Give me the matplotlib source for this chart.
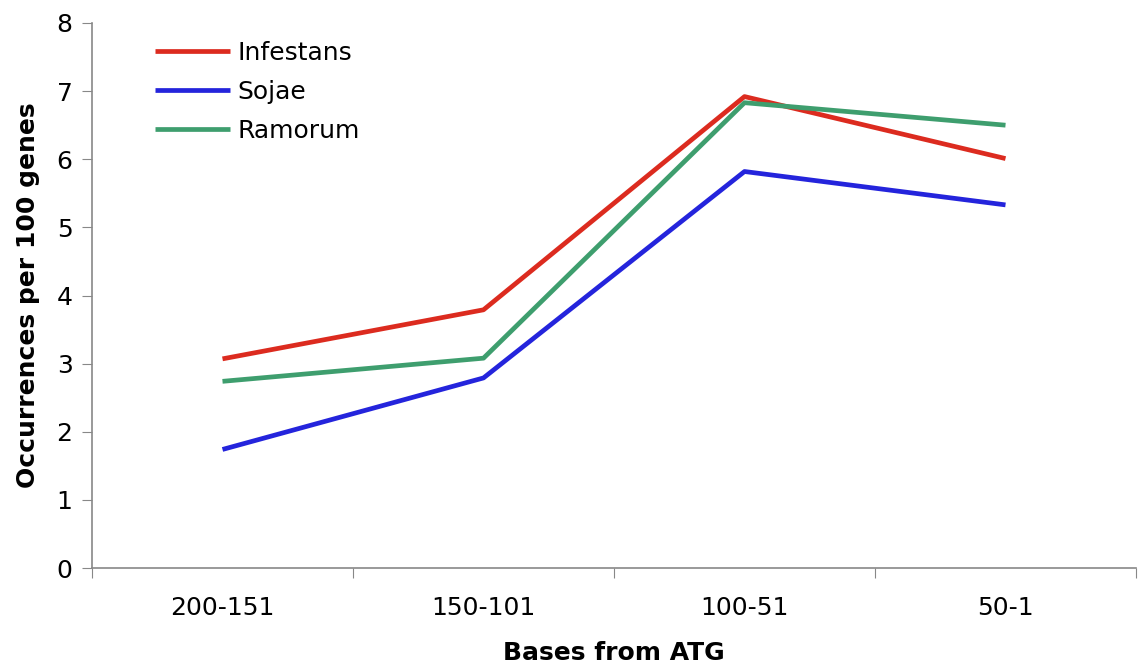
import matplotlib
matplotlib.use("Agg")
import matplotlib.pyplot as plt

# Chart data
categories = ["200-151", "150-101", "100-51", "50-1"]
infestans = [3.07, 3.79, 6.92, 6.01]
sojae = [1.74, 2.79, 5.82, 5.33]
ramorum = [2.74, 3.08, 6.83, 6.50]

series_names = ["Infestans", "Sojae", "Ramorum"]
series_colors = ["#dc2b1f", "#2424dc", "#3e9e6e"]

plt.rcParams["font.family"] = ["DejaVu Sans"]

fig = plt.figure(figsize=(11.38, 6.67), dpi=100)
ax = fig.add_axes([92 / 1138, 99 / 667, 1044 / 1138, 545 / 667])

# Category centres sit between the boundary ticks
xs = [i + 0.5 for i in range(len(categories))]
for name, vals, col in zip(series_names, [infestans, sojae, ramorum], series_colors):
    ax.plot(xs, vals, color=col, lw=3.4, label=name, solid_capstyle="butt")

ax.set_xlim(0, len(categories))
ax.set_ylim(0, 8)
ax.set_yticks(range(0, 9))

# Boundary ticks without labels, labels on minor ticks at the centres
ax.set_xticks(range(0, len(categories) + 1))
ax.set_xticklabels([])
ax.set_xticks(xs, minor=True)
ax.set_xticklabels(categories, minor=True)
ax.tick_params(axis="x", which="minor", length=0, pad=20, labelsize=18)
ax.tick_params(axis="x", which="major", length=7, color="#888888", direction="out")
ax.tick_params(axis="y", length=7, color="#888888", labelsize=18, pad=7)

for side in ["top", "right"]:
    ax.spines[side].set_visible(False)
for side in ["left", "bottom"]:
    ax.spines[side].set_color("#888888")
    ax.spines[side].set_linewidth(1.2)

ax.set_xlabel("Bases from ATG", fontsize=18, fontweight="bold", labelpad=15)
ax.set_ylabel("Occurrences per 100 genes", fontsize=18, fontweight="bold", labelpad=12)

ax.legend(loc="upper left", bbox_to_anchor=(155 / 1138, 1 - 41 / 667),
          bbox_transform=fig.transFigure, frameon=False, fontsize=18,
          handlelength=3.0, handletextpad=0.3, labelspacing=0.6,
          borderpad=0, borderaxespad=0)

fig.savefig("out.png", dpi=100)
